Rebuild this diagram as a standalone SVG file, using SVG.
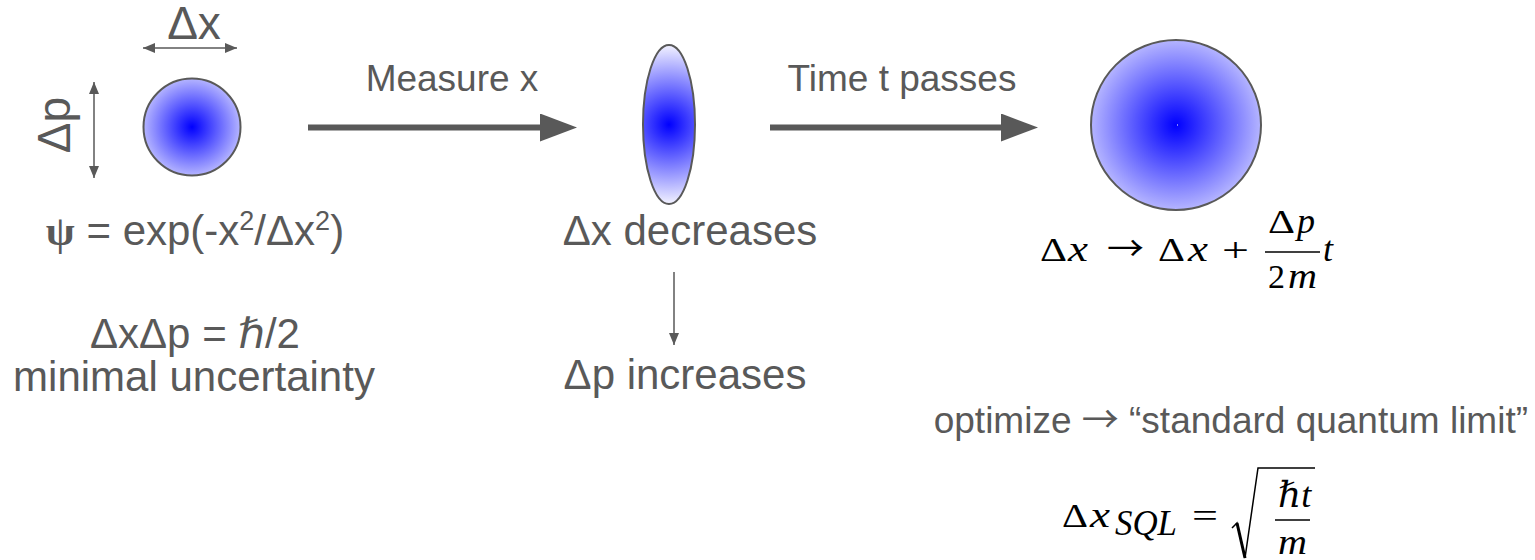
<svg xmlns="http://www.w3.org/2000/svg" width="1535" height="560" viewBox="0 0 1535 560">
<style>
  .t { font-family: "Liberation Sans", Arial, "DejaVu Sans", sans-serif; fill: #595959; }
  .m { font-family: "Liberation Serif", "DejaVu Serif", serif; fill: #000; font-size: 34px; }
  .i { font-style: italic; font-size: 36px; }
  .ar { font-family: "Noto Sans CJK SC", "DejaVu Sans", sans-serif; }
  .shape { stroke: #595959; stroke-width: 2; }
  .thick { stroke: #595959; stroke-width: 6; fill: none; }
  .thin { stroke: #595959; stroke-width: 1.5; fill: none; }
  .bar { stroke: #000; stroke-width: 1.3; }
</style>
<defs>
  <radialGradient id="g1" gradientUnits="userSpaceOnUse" cx="192" cy="127" r="68.6">
    <stop offset="0" stop-color="#0000ff"/>
    <stop offset="1" stop-color="#ffffff"/>
  </radialGradient>
  <radialGradient id="g2" gradientUnits="userSpaceOnUse" cx="669" cy="124.5" r="83.6">
    <stop offset="0" stop-color="#0000ff"/>
    <stop offset="1" stop-color="#ffffff"/>
  </radialGradient>
  <radialGradient id="g3" gradientUnits="userSpaceOnUse" cx="1176" cy="125" r="120">
    <stop offset="0" stop-color="#0000ff"/>
    <stop offset="1" stop-color="#ffffff"/>
  </radialGradient>
  <marker id="bigHead" markerUnits="userSpaceOnUse" markerWidth="38" markerHeight="28" viewBox="0 0 37 28" refX="1" refY="14" orient="auto">
    <path d="M0,0 L37,14 L0,28 Z" fill="#595959"/>
  </marker>
  <marker id="smallHead" markerUnits="userSpaceOnUse" markerWidth="12" markerHeight="10" viewBox="0 0 12 10" refX="12" refY="5" orient="auto-start-reverse">
    <path d="M0,0 L12,5 L0,10 Z" fill="#595959"/>
  </marker>
</defs>

<rect width="1535" height="560" fill="#fff"/>

<g id="state-initial">
  <circle class="shape" cx="192" cy="127" r="48.5" fill="url(#g1)"/>
  <text class="t" x="194" y="39" font-size="46" text-anchor="middle">Δx</text>
  <text class="t" font-size="46" text-anchor="middle" transform="translate(70,125) rotate(-90)">Δp</text>
  <text class="t" x="195" y="245" font-size="42" text-anchor="middle"><tspan font-family="Liberation Serif, DejaVu Serif, serif" font-weight="bold">ψ</tspan> = exp(-x<tspan font-size="27" dy="-15">2</tspan><tspan dy="15">/Δx</tspan><tspan font-size="27" dy="-15">2</tspan><tspan dy="15">)</tspan></text>
  <text class="t" x="195" y="348" font-size="42" text-anchor="middle">ΔxΔp = ℏ/2</text>
  <text class="t" x="194" y="391" font-size="42" text-anchor="middle">minimal uncertainty</text>
</g>

<g id="state-measured">
  <ellipse class="shape" cx="669" cy="124.5" rx="26" ry="79.5" fill="url(#g2)"/>
  <text class="t" x="690" y="245" font-size="42" text-anchor="middle">Δx decreases</text>
  <text class="t" x="685" y="389" font-size="42" text-anchor="middle">Δp increases</text>
</g>

<g id="state-evolved">
  <circle class="shape" cx="1176" cy="125" r="85" fill="url(#g3)"/>
  <rect x="1177" y="124.5" width="1" height="1" fill="#fff"/>
  <text class="m" x="1040" y="261" textLength="27" lengthAdjust="spacingAndGlyphs">Δ</text>
  <text class="m i" x="1068" y="261" textLength="20" lengthAdjust="spacingAndGlyphs">x</text>
  <text class="m ar" x="1107" y="261" font-size="36" textLength="37" lengthAdjust="spacingAndGlyphs">→</text>
  <text class="m" x="1158" y="261" textLength="27" lengthAdjust="spacingAndGlyphs">Δ</text>
  <text class="m i" x="1188" y="261" textLength="20" lengthAdjust="spacingAndGlyphs">x</text>
  <text class="m" x="1222" y="261" font-size="38" textLength="27" lengthAdjust="spacingAndGlyphs">+</text>
  <text class="m" x="1268" y="233" textLength="27" lengthAdjust="spacingAndGlyphs">Δ</text>
  <text class="m i" x="1297" y="233">p</text>
  <line class="bar" x1="1265" y1="252" x2="1320" y2="252"/>
  <text class="m" x="1268" y="288" textLength="17" lengthAdjust="spacingAndGlyphs">2</text>
  <text class="m i" x="1288" y="288" textLength="29" lengthAdjust="spacingAndGlyphs">m</text>
  <text class="m i" x="1323" y="261">t</text>
</g>

<g id="sql">
  <text class="t" x="1528" y="433" font-size="37" text-anchor="end">optimize <tspan class="ar">→</tspan> “standard quantum limit”</text>
  <text class="m" x="1062" y="527" textLength="26" lengthAdjust="spacingAndGlyphs">Δ</text>
  <text class="m i" x="1090" y="527" textLength="20" lengthAdjust="spacingAndGlyphs">x</text>
  <text class="m i" x="1115" y="535" font-size="25" textLength="62" lengthAdjust="spacingAndGlyphs">SQL</text>
  <text class="m" x="1192" y="527" font-size="38" textLength="26" lengthAdjust="spacingAndGlyphs">=</text>
  <path d="M1232,528 L1237,523 L1245,558 L1258,468 L1315,468" fill="none" stroke="#000" stroke-width="1.5" stroke-linejoin="miter"/>
  <path d="M1237,523 L1245,558" fill="none" stroke="#000" stroke-width="3"/>
  <text class="m i" x="1278" y="507">ℏt</text>
  <line class="bar" x1="1275" y1="520" x2="1310" y2="520"/>
  <text class="m i" x="1278" y="554" textLength="29" lengthAdjust="spacingAndGlyphs">m</text>
</g>

<g id="connectors">
  <path class="thick" d="M308,127.5 L541,127.5" marker-end="url(#bigHead)"/>
  <text class="t" x="452" y="91" font-size="37" text-anchor="middle">Measure x</text>
  <path class="thick" d="M770,127.5 L1002,127.5" marker-end="url(#bigHead)"/>
  <text class="t" x="902" y="91" font-size="37" text-anchor="middle">Time t passes</text>
  <path class="thin" d="M143,48 L237,48" marker-start="url(#smallHead)" marker-end="url(#smallHead)"/>
  <path class="thin" d="M94,82 L94,178" marker-start="url(#smallHead)" marker-end="url(#smallHead)"/>
  <path class="thin" d="M674,272 L674,345" marker-end="url(#smallHead)"/>
</g>
</svg>
